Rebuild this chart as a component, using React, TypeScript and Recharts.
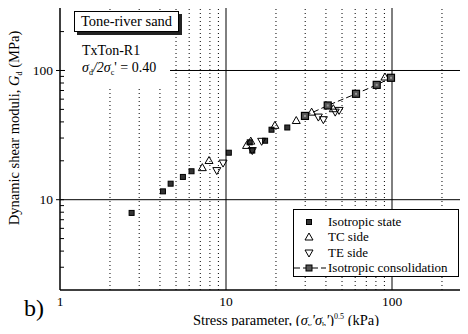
import { Legend, ReferenceLine, Scatter, ScatterChart, XAxis, YAxis } from 'recharts'

const SERIF = '"Liberation Serif", "DejaVu Serif", "Times New Roman", serif'

// values (stress parameter in kPa, Gd in MPa)
const ISO_STATE_STRESS = [2.7, 4.17, 4.64, 5.5, 6.2, 10.4, 13.9, 14.4, 17.2, 18.8, 23.4]
const ISO_STATE_GD = [7.9, 11.6, 13.3, 15.0, 16.6, 23.1, 27.8, 24.0, 28.6, 34.8, 36.2]

const TC_STRESS = [7.2, 7.9, 13.3, 14.1, 19.7, 26.5, 32.8, 44.3, 90.7]
const TC_GD = [17.7, 20.1, 26.3, 28.4, 37.6, 41.0, 47.6, 50.6, 89.0]

const TE_STRESS = [8.8, 9.6, 14.4, 16.4, 36.0, 38.6, 45.5, 48.0]
const TE_GD = [16.8, 19.2, 24.0, 28.3, 43.6, 41.6, 47.6, 49.1]

const CONSOL_STRESS = [29.9, 41.0, 60.7, 80.9, 98.6]
const CONSOL_GD = [44.5, 53.6, 66.0, 77.4, 87.8]

const MAJOR_X = [1, 10, 100]
const MINOR_X = [2, 3, 4, 5, 6, 7, 8, 9, 20, 30, 40, 50, 60, 70, 80, 90, 200, 300, 400, 500, 600, 700, 800, 900]
const MAJOR_Y = [10, 100]
const MINOR_Y = [3, 4, 5, 6, 7, 8, 9, 20, 30, 40, 50, 60, 70, 80, 90, 200]

const zip = (xs: number[], ys: number[]) => xs.map((x, i) => ({ x, y: ys[i] }))

const isoState = zip(ISO_STATE_STRESS, ISO_STATE_GD)
const tcSide = zip(TC_STRESS, TC_GD)
const teSide = zip(TE_STRESS, TE_GD)
const consol = zip(CONSOL_STRESS, CONSOL_GD)

const PLOT_LEFT = 60
const PLOT_TOP = 7

const SmallSquare = (p: any) => (
  <rect x={p.cx - 2.5} y={p.cy - 2.5} width={5} height={5} fill="#333" stroke="#000" strokeWidth={1} />
)

const BigSquare = (p: any) => (
  <g>
    <rect x={p.cx - 3.5} y={p.cy - 3.5} width={7} height={7} fill="#555" stroke="#000" strokeWidth={1.2} />
    <rect x={p.cx - 1} y={p.cy - 1} width={2} height={2} fill="#999" />
  </g>
)

const UpTri = (p: any) => (
  <path d={`M${p.cx},${p.cy - 4} L${p.cx + 4},${p.cy + 3} L${p.cx - 4},${p.cy + 3} Z`} fill="none" stroke="#000" strokeWidth={1} />
)

const DownTri = (p: any) => (
  <path d={`M${p.cx},${p.cy + 4} L${p.cx + 4},${p.cy - 3} L${p.cx - 4},${p.cy - 3} Z`} fill="none" stroke="#000" strokeWidth={1} />
)

const XTick = (p: any) => (
  <text x={p.x} y={306} textAnchor="middle" fontSize={13.5} fontFamily={SERIF} fill="#000">
    {p.payload.value}
  </text>
)

const TopTick = (p: any) => (
  <line x1={p.x} x2={p.x} y1={PLOT_TOP} y2={PLOT_TOP + 4} stroke="#000" />
)

const YTick = (p: any) => {
  const v = p.payload.value
  const major = MAJOR_Y.includes(v)
  return (
    <g>
      <line x1={major ? PLOT_LEFT - 4 : PLOT_LEFT} x2={PLOT_LEFT + 4} y1={p.y} y2={p.y} stroke="#000" />
      {major && (
        <text x={PLOT_LEFT - 7} y={p.y + 4.5} textAnchor="end" fontSize={13.5} fontFamily={SERIF} fill="#000">
          {v}
        </text>
      )}
    </g>
  )
}

const Mark = ({ kind }: { kind: string }) => (
  <svg width={34} height={14} style={{ display: 'block' }}>
    {kind === 'consol' && <line x1={0} x2={32} y1={7} y2={7} stroke="#000" strokeDasharray="6 3" />}
    {kind === 'state' && <rect x={12.5} y={4.5} width={5} height={5} fill="#333" stroke="#000" />}
    {kind === 'consol' && <rect x={12} y={4} width={6} height={6} fill="#555" stroke="#000" />}
    {kind === 'tc' && <path d="M15,3 L19,10 L11,10 Z" fill="none" stroke="#000" />}
    {kind === 'te' && <path d="M15,11 L19,4 L11,4 Z" fill="none" stroke="#000" />}
  </svg>
)

const LEGEND_ROWS = [
  { kind: 'state', label: 'Isotropic state' },
  { kind: 'tc', label: 'TC side' },
  { kind: 'te', label: 'TE side' },
  { kind: 'consol', label: 'Isotropic consolidation' },
]

const LegendBox = () => (
  <div
    style={{
      background: '#fff',
      border: '1px solid #000',
      width: 166,
      height: 68,
      boxSizing: 'border-box',
      padding: '4px 0 0 0',
      fontFamily: SERIF,
      fontSize: 13,
      color: '#000',
    }}
  >
    {LEGEND_ROWS.map((r) => (
      <div key={r.kind} style={{ display: 'flex', alignItems: 'center', height: 15.5 }}>
        <Mark kind={r.kind} />
        <span style={{ marginLeft: 0, whiteSpace: 'nowrap' }}>{r.label}</span>
      </div>
    ))}
  </div>
)

const sig = { fontStyle: 'italic' as const }
const sub = { fontSize: 8, verticalAlign: -3 }

export default function App() {
  return (
    <div
      style={{
        position: 'relative',
        width: 468,
        height: 334,
        margin: -8,
        overflow: 'hidden',
        background: '#fff',
        fontFamily: SERIF,
        color: '#000',
      }}
    >
      <ScatterChart width={568} height={334} margin={{ top: PLOT_TOP, right: 10, bottom: 0, left: 0 }}>
        <XAxis
          dataKey="x"
          type="number"
          scale="log"
          domain={[1, 1000]}
          ticks={MAJOR_X}
          interval={0}
          height={44}
          tickLine={false}
          axisLine={{ stroke: '#000', strokeWidth: 1.5 }}
          tick={<XTick />}
          allowDataOverflow
        />
        <XAxis
          xAxisId="top"
          orientation="top"
          dataKey="x"
          type="number"
          scale="log"
          domain={[1, 1000]}
          ticks={MINOR_X}
          interval={0}
          height={0}
          tickLine={false}
          axisLine={{ stroke: '#000', strokeWidth: 1.5 }}
          tick={<TopTick />}
          allowDataOverflow
        />
        <YAxis
          dataKey="y"
          type="number"
          scale="log"
          domain={[2, 310]}
          ticks={[...MINOR_Y, ...MAJOR_Y]}
          interval={0}
          width={60}
          tickLine={false}
          axisLine={{ stroke: '#000', strokeWidth: 1.5 }}
          tick={<YTick />}
          allowDataOverflow
        />
        {MINOR_X.map((v) => (
          <ReferenceLine key={`mx${v}`} x={v} stroke="#000" strokeWidth={1} strokeDasharray="1 3" />
        ))}
        {[10, 100].map((v) => (
          <ReferenceLine key={`Mx${v}`} x={v} stroke="#000" strokeWidth={1} />
        ))}
        {MAJOR_Y.map((v) => (
          <ReferenceLine key={`My${v}`} y={v} stroke="#000" strokeWidth={1} />
        ))}
        <Scatter data={isoState} shape={<SmallSquare />} isAnimationActive={false} />
        <Scatter data={tcSide} shape={<UpTri />} isAnimationActive={false} />
        <Scatter data={teSide} shape={<DownTri />} isAnimationActive={false} />
        <Scatter
          data={consol}
          shape={<BigSquare />}
          line={{ stroke: '#000', strokeWidth: 1, strokeDasharray: '6 3' }}
          lineType="joint"
          isAnimationActive={false}
        />
        <Legend
          layout="horizontal"
          verticalAlign="middle"
          align="center"
          content={() => <LegendBox />}
          wrapperStyle={{ left: 293, top: 209, width: 166, height: 68 }}
        />
      </ScatterChart>

      {/* white patch behind the annotations, hides the grid there */}
      <div style={{ position: 'absolute', left: 65, top: 11, width: 105, height: 76, background: '#fff' }} />
      <div
        style={{
          position: 'absolute',
          left: 74,
          top: 11,
          width: 103,
          height: 19,
          border: '1px solid #000',
          background: '#fff',
          boxShadow: '3px 3px 0 #222',
          fontSize: 14.5,
          lineHeight: '19px',
          textAlign: 'center',
        }}
      >
        Tone-river sand
      </div>
      <div style={{ position: 'absolute', left: 82, top: 43, fontSize: 14, lineHeight: '16px' }}>TxTon-R1</div>
      <div style={{ position: 'absolute', left: 82, top: 60, fontSize: 14, lineHeight: '16px', whiteSpace: 'nowrap' }}>
        <span style={sig}>σ</span>
        <span style={sub}>d</span>
        <span style={sig}>/2σ</span>
        <span style={sub}>c</span>
        <span>' = 0.40</span>
      </div>

      <div
        style={{
          position: 'absolute',
          left: 15,
          top: 128,
          transform: 'translate(-50%, -50%) rotate(-90deg)',
          fontSize: 14.5,
          whiteSpace: 'nowrap',
        }}
      >
        Dynamic shear moduli, <span style={sig}>G</span>
        <span style={sub}>d</span> (MPa)
      </div>

      <div
        style={{
          position: 'absolute',
          left: 286,
          top: 321,
          transform: 'translate(-50%, -50%)',
          fontSize: 14.5,
          lineHeight: '17px',
          whiteSpace: 'nowrap',
        }}
      >
        Stress parameter, (<span style={sig}>σ</span>
        <span style={sub}>v</span>
        <span style={sig}>'σ</span>
        <span style={sub}>h</span>
        <span style={sig}>'</span>)<span style={{ fontSize: 8, verticalAlign: 6 }}>0.5</span> (kPa)
      </div>

      <div style={{ position: 'absolute', left: 24, top: 295, fontSize: 24, lineHeight: '26px' }}>b)</div>
    </div>
  )
}
